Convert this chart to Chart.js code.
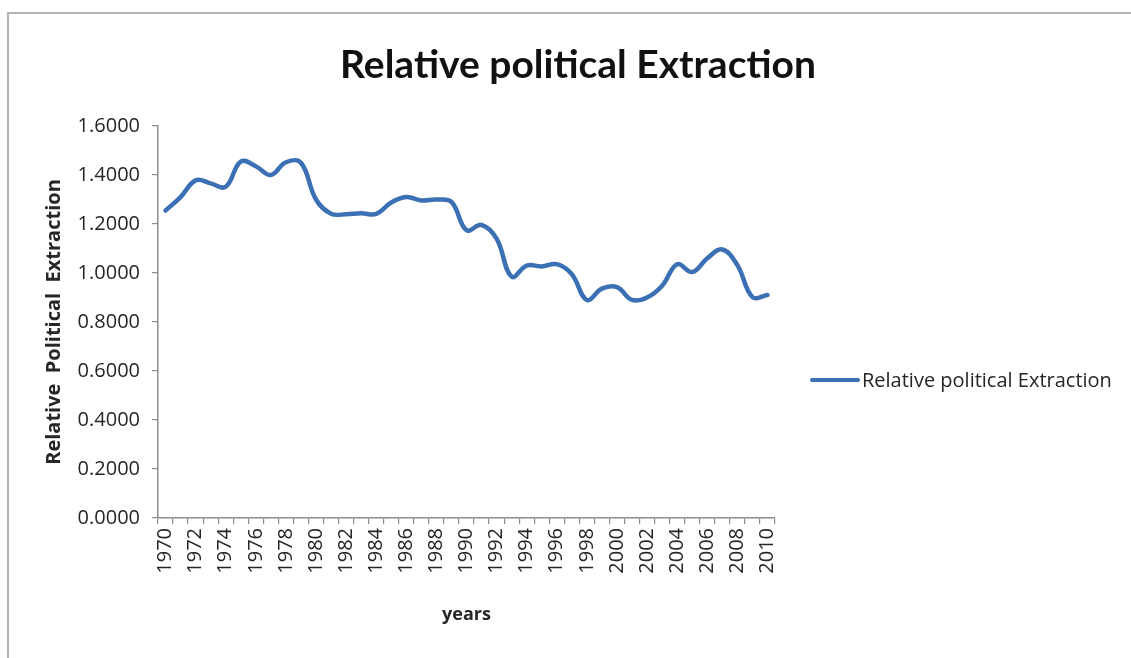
<!DOCTYPE html>
<html>
<head>
<meta charset="utf-8">
<title>Relative political Extraction</title>
<script src="https://cdn.jsdelivr.net/npm/chart.js@4.4.1/dist/chart.umd.min.js"></script>
<style>
  html, body { margin: 0; padding: 0; background: #ffffff; }
  #wrap { position: relative; width: 1131px; height: 658px; overflow: hidden; }
  #frame {
    position: absolute; left: 7px; top: 12px; width: 1140px; height: 660px;
    border-top: 2px solid #b2b2b2; border-left: 2px solid #b2b2b2;
    box-sizing: border-box; pointer-events: none;
  }
  canvas { position: absolute; left: 0; top: 0; }
</style>
</head>
<body>
<div id="wrap">
  <canvas id="chart" width="1131" height="658"></canvas>
  <div id="frame"></div>
</div>
<script>
// Years on the category axis
const years = [
  1970, 1971, 1972, 1973, 1974, 1975, 1976, 1977, 1978, 1979,
  1980, 1981, 1982, 1983, 1984, 1985, 1986, 1987, 1988, 1989,
  1990, 1991, 1992, 1993, 1994, 1995, 1996, 1997, 1998, 1999,
  2000, 2001, 2002, 2003, 2004, 2005, 2006, 2007, 2008, 2009,
  2010
];

// Relative political extraction index per year
const extraction = [
  1.255, 1.310, 1.378, 1.366, 1.352, 1.455, 1.436, 1.400, 1.452, 1.450,
  1.300, 1.242, 1.240, 1.244, 1.241, 1.288, 1.310, 1.296, 1.300, 1.290,
  1.175, 1.196, 1.140, 0.985, 1.030, 1.027, 1.036, 0.995, 0.890, 0.936,
  0.942, 0.890, 0.900, 0.948, 1.036, 1.004, 1.060, 1.096, 1.032, 0.902,
  0.910
];

// Value-axis tick marks
const yTicks = [0, 0.2, 0.4, 0.6, 0.8, 1.0, 1.2, 1.4, 1.6];

const seriesName = 'Relative political Extraction';
const chartTitle = 'Relative political Extraction';
const lineColor = '#3c70b4';
const axisColor = '#8c8c8c';
const textColor = '#262626';
const FONT = "'Open Sans', 'DejaVu Sans', sans-serif";

// Title centred across the whole canvas, and the legend to the right of the plot
const decorations = {
  id: 'decorations',
  afterDraw(chart) {
    const ctx = chart.ctx;
    const ds = chart.data.datasets[0];
    ctx.save();
    ctx.fillStyle = '#111111';
    ctx.font = "bold 39px Lato, 'Open Sans', sans-serif";
    ctx.textAlign = 'center';
    ctx.textBaseline = 'middle';
    ctx.fillText(chartTitle, 578, 65);

    const x0 = 812, y0 = 380;
    ctx.strokeStyle = ds.borderColor;
    ctx.lineWidth = 4;
    ctx.lineCap = 'round';
    ctx.beginPath();
    ctx.moveTo(x0, y0);
    ctx.lineTo(x0 + 46, y0);
    ctx.stroke();
    ctx.fillStyle = textColor;
    ctx.font = "20px " + FONT;
    ctx.textAlign = 'left';
    ctx.fillText(ds.label, x0 + 50, y0 + 1);
    ctx.restore();
  }
};

new Chart(document.getElementById('chart'), {
  type: 'line',
  data: {
    labels: years,
    datasets: [{
      label: seriesName,
      data: extraction,
      borderColor: lineColor,
      backgroundColor: lineColor,
      borderWidth: 4.5,
      tension: 0.4,
      pointRadius: 0,
      pointHoverRadius: 0,
      fill: false,
      borderCapStyle: 'round',
      borderJoinStyle: 'round'
    }]
  },
  options: {
    responsive: false,
    animation: false,
    events: [],
    layout: { padding: { left: 0, right: 356, top: 126, bottom: 0 } },
    plugins: {
      legend: { display: false },
      tooltip: { enabled: false },
      title: { display: false }
    },
    scales: {
      x: {
        type: 'category',
        offset: true,
        border: { display: true, color: axisColor, width: 1.5 },
        grid: {
          display: true,
          offset: true,
          drawOnChartArea: false,
          drawTicks: true,
          tickLength: 6,
          color: axisColor,
          lineWidth: 1.2
        },
        ticks: {
          autoSkip: false,
          minRotation: 90,
          maxRotation: 90,
          padding: 4,
          color: textColor,
          font: { family: FONT, size: 20 },
          callback(value, index) {
            return index % 2 === 0 ? String(years[index]) : '';
          }
        },
        title: {
          display: true,
          text: 'years',
          color: textColor,
          font: { family: FONT, size: 18, weight: 'bold' },
          padding: { top: 0, bottom: 32 }
        },
        afterFit(scale) { scale.height = 140; }
      },
      y: {
        min: 0,
        max: 1.6,
        border: { display: true, color: axisColor, width: 1.5 },
        grid: {
          display: true,
          drawOnChartArea: false,
          drawTicks: true,
          tickLength: 6,
          color: axisColor,
          lineWidth: 1.2
        },
        afterBuildTicks(scale) {
          scale.ticks = yTicks.map(v => ({ value: v }));
        },
        ticks: {
          padding: 12,
          color: textColor,
          font: { family: FONT, size: 20 },
          callback(value) { return Number(value).toFixed(4); }
        },
        title: {
          display: true,
          text: 'Relative  Political  Extraction',
          color: textColor,
          font: { family: FONT, size: 20, weight: 'bold' },
          padding: { top: 42, bottom: 0 }
        },
        afterFit(scale) { scale.width = 158; }
      }
    }
  },
  plugins: [decorations]
});
</script>
</body>
</html>
